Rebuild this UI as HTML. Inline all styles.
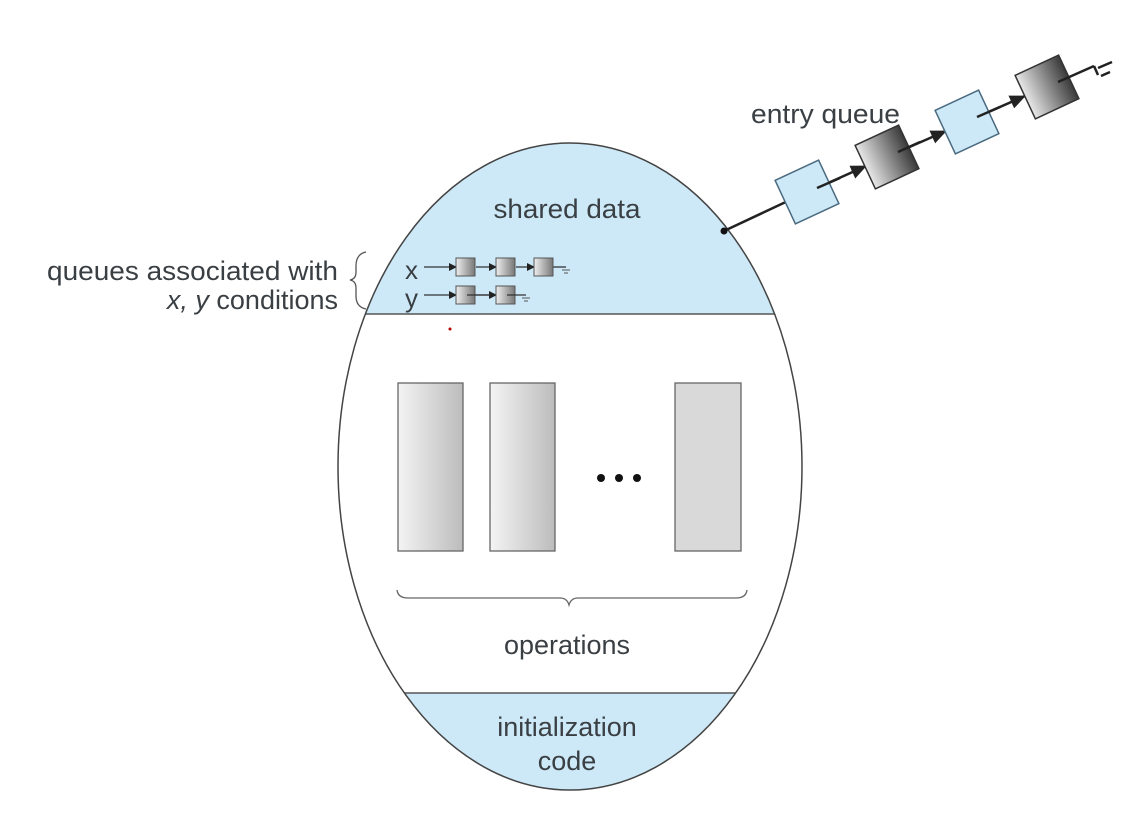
<!DOCTYPE html>
<html><head><meta charset="utf-8"><style>
html,body{margin:0;padding:0;background:#fff;}
svg{display:block}
text{font-family:"Liberation Sans",Arial,sans-serif;fill:#3a3f44;}
</style></head><body>
<svg width="1124" height="818" viewBox="0 0 1124 818" xmlns="http://www.w3.org/2000/svg">
<defs>
<clipPath id="ell"><ellipse cx="570" cy="466.5" rx="232" ry="323.5"/></clipPath>
<linearGradient id="g1" x1="0" x2="1" y1="0" y2="0"><stop offset="0" stop-color="#f4f4f4"/><stop offset="1" stop-color="#bcbcbc"/></linearGradient>
<linearGradient id="g2" x1="0" x2="1" y1="0" y2="0"><stop offset="0" stop-color="#e8e8e8"/><stop offset="1" stop-color="#3a3a3a"/></linearGradient>
<linearGradient id="g3" x1="0" x2="1" y1="0" y2="0"><stop offset="0" stop-color="#eeeeee"/><stop offset="1" stop-color="#777"/></linearGradient>
<marker id="ar" markerWidth="8" markerHeight="8" refX="7" refY="4" orient="auto" markerUnits="userSpaceOnUse"><path d="M0,0 L8,4 L0,8z" fill="#222"/></marker>
<marker id="ar2" markerWidth="16" markerHeight="14" refX="15" refY="7" orient="auto" markerUnits="userSpaceOnUse"><path d="M0,0 L16,7 L0,14z" fill="#222"/></marker>
</defs>
<g clip-path="url(#ell)">
<rect x="330" y="130" width="480" height="184" fill="#cde9f7"/>
<rect x="330" y="693" width="480" height="110" fill="#cde9f7"/>
</g>
<line x1="330" y1="314" x2="810" y2="314" stroke="#555" stroke-width="1.5" clip-path="url(#ell)"/>
<line x1="330" y1="693" x2="810" y2="693" stroke="#555" stroke-width="1.5" clip-path="url(#ell)"/>
<ellipse cx="570" cy="466.5" rx="232" ry="323.5" fill="none" stroke="#444" stroke-width="1.5"/>

<text x="567" y="218" font-size="27" text-anchor="middle" textLength="147" lengthAdjust="spacingAndGlyphs">shared data</text>
<text x="338" y="280" font-size="27" text-anchor="end" textLength="291" lengthAdjust="spacingAndGlyphs">queues associated with</text>
<text x="338" y="309" font-size="27" text-anchor="end"><tspan font-style="italic">x, y</tspan> conditions</text>
<path d="M366,252 Q356,254 356,266 L356,272 Q356,279 350,280 Q356,281 356,288 L356,296 Q356,307 366,309" fill="none" stroke="#555" stroke-width="1.3"/>

<text x="405" y="279" font-size="26">x</text>
<text x="405" y="307" font-size="26">y</text>
<g stroke="#333" stroke-width="1.3">
<line x1="424" y1="267" x2="456" y2="267" marker-end="url(#ar)"/>
<line x1="476" y1="267" x2="496" y2="267" marker-end="url(#ar)"/>
<line x1="516" y1="267" x2="534" y2="267" marker-end="url(#ar)"/>
<line x1="552" y1="267" x2="566" y2="267"/>
<line x1="424" y1="295" x2="456" y2="295" marker-end="url(#ar)"/>
<line x1="468" y1="295" x2="496" y2="295" marker-end="url(#ar)"/>
</g>
<g stroke="#555" stroke-width="1">
<rect x="456" y="258" width="19" height="18" fill="url(#g3)"/>
<rect x="496" y="258" width="19" height="18" fill="url(#g3)"/>
<rect x="534" y="258" width="19" height="18" fill="url(#g3)"/>
<rect x="456" y="286" width="19" height="18" fill="url(#g3)"/>
<rect x="496" y="286" width="19" height="18" fill="url(#g3)"/>
<line x1="562" y1="270" x2="570" y2="270"/><line x1="564" y1="273" x2="568" y2="273"/>
<line x1="522" y1="298" x2="530" y2="298"/><line x1="524" y1="301" x2="528" y2="301"/>
</g>
<line x1="467" y1="295" x2="490" y2="295" stroke="#333" stroke-width="1.3"/>
<line x1="507" y1="295" x2="526" y2="295" stroke="#333" stroke-width="1.3"/>
<circle cx="450" cy="329" r="1.5" fill="#b00"/>

<g stroke="#666" stroke-width="1.3">
<rect x="398" y="383" width="65" height="168" fill="url(#g1)"/>
<rect x="490" y="383" width="65" height="168" fill="url(#g1)"/>
<rect x="675" y="383" width="66" height="168" fill="#d9d9d9"/>
</g>
<circle cx="601" cy="478" r="4" fill="#111"/>
<circle cx="619" cy="478" r="4" fill="#111"/>
<circle cx="637" cy="478" r="4" fill="#111"/>
<path d="M397,590 Q398,598 408,598 L560,598 Q567,598 569,605 Q571,598 578,598 L736,598 Q746,598 747,590" fill="none" stroke="#666" stroke-width="1.3"/>
<text x="567" y="654" font-size="27" text-anchor="middle">operations</text>
<text x="567" y="736" font-size="27" text-anchor="middle">initialization</text>
<text x="567" y="770" font-size="27" text-anchor="middle">code</text>

<text x="751" y="123" font-size="27" textLength="149" lengthAdjust="spacingAndGlyphs">entry queue</text>
<g stroke="#222" stroke-width="2.5">
<line x1="724" y1="231" x2="790" y2="200"/>
<line x1="817" y1="188" x2="866" y2="166" marker-end="url(#ar2)"/>
<line x1="898" y1="152" x2="946" y2="131" marker-end="url(#ar2)"/>
<line x1="977" y1="117" x2="1025" y2="96" marker-end="url(#ar2)"/>
</g>
<circle cx="724" cy="231" r="3.5" fill="#111"/>
<g stroke="#333" stroke-width="1.5">
<rect x="-24" y="-24" width="48" height="48" fill="#cde9f7" stroke="#4a6a80" transform="translate(807,192) rotate(-25)"/>
<rect x="-24" y="-24" width="48" height="48" fill="url(#g2)" transform="translate(887,157) rotate(-25)"/>
<rect x="-24" y="-24" width="48" height="48" fill="#cde9f7" stroke="#4a6a80" transform="translate(967,122) rotate(-25)"/>
<rect x="-24" y="-24" width="48" height="48" fill="url(#g2)" transform="translate(1047,87) rotate(-25)"/>
</g>
<g stroke="#222" stroke-width="2.5">
<line x1="817" y1="188" x2="840" y2="178"/>
<line x1="898" y1="152" x2="920" y2="142"/>
<line x1="977" y1="117" x2="1000" y2="107"/>
<line x1="1058" y1="82" x2="1094" y2="66"/>
<line x1="1094" y1="66" x2="1098" y2="75"/>
<line x1="1098" y1="68" x2="1112" y2="62"/>
<line x1="1101" y1="76" x2="1110" y2="72"/>
</g>
</svg>
</body></html>
